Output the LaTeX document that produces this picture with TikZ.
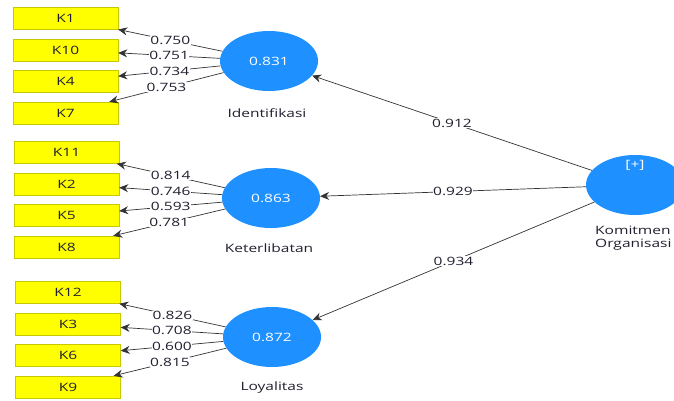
\documentclass[tikz,border=0pt]{standalone}
\usepackage{fontspec}
\setmainfont{Open Sans}[FakeStretch=1.35]
\usetikzlibrary{shapes.geometric,arrows.meta}
\definecolor{lvblue}{HTML}{1E90FF}
\definecolor{indyellow}{HTML}{FFFF00}
\definecolor{indborder}{HTML}{C8C800}
\definecolor{txt}{HTML}{202030}
\tikzset{
  ind/.style={draw=indborder, fill=indyellow, minimum width=105pt, minimum height=22pt, inner sep=0pt, text=txt, font=\fontsize{11.5}{13}\selectfont},
  lv/.style={ellipse, fill=lvblue, minimum width=98pt, minimum height=60pt, inner sep=0pt, text=white, font=\fontsize{11.5}{13}\selectfont},
  lvname/.style={text=txt, font=\fontsize{11.5}{13}\selectfont, inner sep=0pt},
  wt/.style={fill=white, inner sep=0.5pt, text=txt, font=\fontsize{11.5}{11}\selectfont},
  arr/.style={draw=black!80, line width=0.7pt, -{Stealth[length=9pt,width=8pt]}},
}
\begin{document}
\begin{tikzpicture}[x=1pt,y=-1pt]
\useasboundingbox (0,0) rectangle (674,401);
\clip (0,0) rectangle (674,401);
% indicators
\node[ind] (K1)  at (65.5,18.5) {K1};
\node[ind] (K10) at (65.5,50) {K10};
\node[ind] (K4)  at (65.5,81.5) {K4};
\node[ind] (K7)  at (65.5,113) {K7};
\node[ind] (K11) at (66.5,152.5) {K11};
\node[ind] (K2)  at (66.5,184) {K2};
\node[ind] (K5)  at (66.5,215.5) {K5};
\node[ind] (K8)  at (66.5,247) {K8};
\node[ind] (K12) at (68,292.5) {K12};
\node[ind] (K3)  at (68,324) {K3};
\node[ind] (K6)  at (68,355.5) {K6};
\node[ind] (K9)  at (68,387) {K9};
% latent variables
\node[lv] (iden) at (269,61) {0.831};
\node[lv] (ket)  at (271,198) {0.863};
\node[lv] (loy)  at (272,337) {0.872};
\node[lv] (kom)  at (635,185) {};
\node[text=white, font=\fontsize{11.5}{13}\selectfont, inner sep=0pt] (komplus) at (635,165) {[+]};
% latent names
\node[lvname] (idenname) at (267,113) {Identifikasi};
\node[lvname] (ketname)  at (269,248) {Keterlibatan};
\node[lvname] (loyname)  at (272,388) {Loyalitas};
\node[lvname, anchor=north west, align=left, font=\fontsize{11.5}{13}\selectfont] (komname) at (595,226) {Komitmen\\Organisasi};
% outer loadings
\draw[arr] (iden) -- node[wt]{0.750} (K1);
\draw[arr] (iden) -- node[wt]{0.751} (K10);
\draw[arr] (iden) -- node[wt]{0.734} (K4);
\draw[arr] (iden) -- node[wt]{0.753} (K7);
\draw[arr] (ket) -- node[wt]{0.814} (K11);
\draw[arr] (ket) -- node[wt]{0.746} (K2);
\draw[arr] (ket) -- node[wt]{0.593} (K5);
\draw[arr] (ket) -- node[wt]{0.781} (K8);
\draw[arr] (loy) -- node[wt]{0.826} (K12);
\draw[arr] (loy) -- node[wt]{0.708} (K3);
\draw[arr] (loy) -- node[wt]{0.600} (K6);
\draw[arr] (loy) -- node[wt]{0.815} (K9);
% second order loadings
\draw[arr] (kom) -- node[wt]{0.912} (iden);
\draw[arr] (kom) -- node[wt]{0.929} (ket);
\draw[arr] (kom) -- node[wt]{0.934} (loy);
\end{tikzpicture}
\end{document}
